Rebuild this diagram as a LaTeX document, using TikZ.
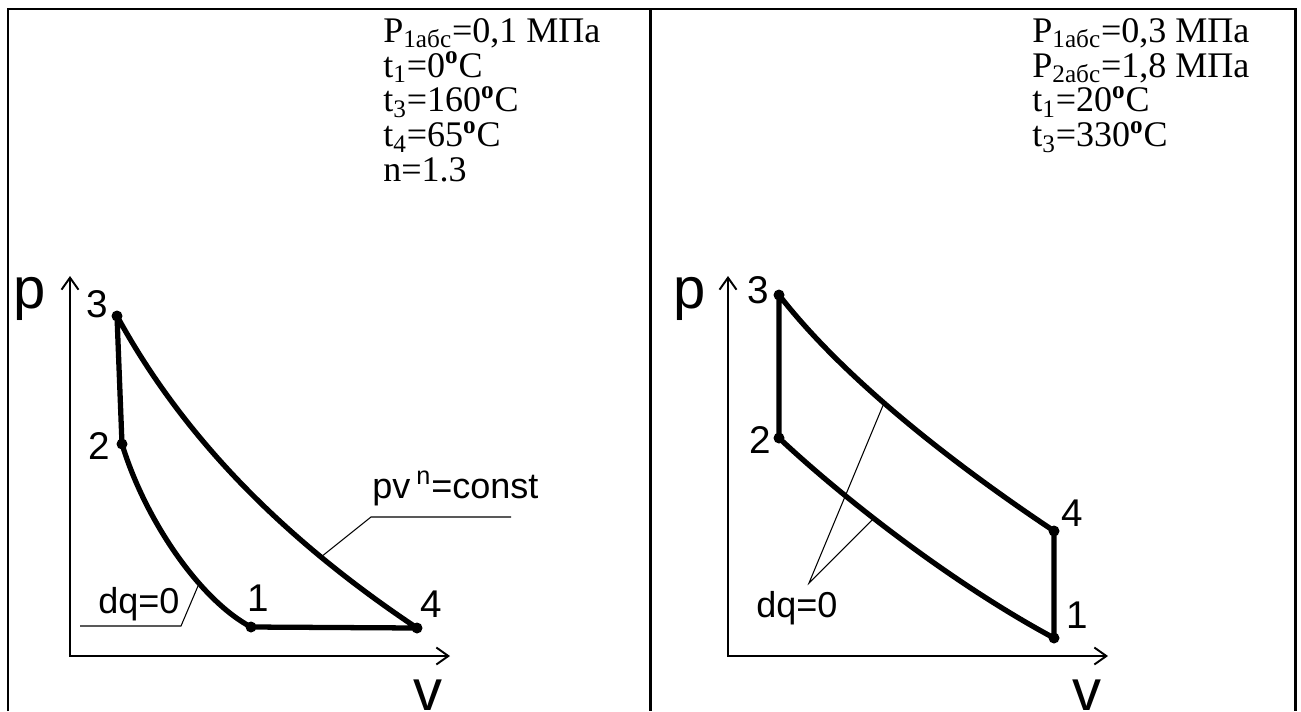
\documentclass[tikz,border=0pt]{standalone}
\usepackage{fontspec}
\setmainfont{Liberation Serif}
\newfontfamily\labelfont{Liberation Sans}
\usetikzlibrary{arrows.meta,positioning}

\begin{document}
\begin{tikzpicture}[
    x=0.02cm, y=-0.02cm,
    frame/.style={line width=1.7pt},
    axis/.style={
      line width=1.1pt,
      {Straight Barb[length=2.4mm,width=3.4mm]}-{Straight Barb[length=2.4mm,width=3.4mm]}
    },
    proc/.style={line width=3pt, line cap=round, line join=round},
    dot/.style={circle, fill, inner sep=0pt, minimum size=0.22cm},
    leader/.style={line width=0.6pt},
    data/.style={
      anchor=north west,
      inner sep=0pt,
      align=left,
      font=\fontsize{20.5}{19.8}\selectfont
    },
    num/.style={inner sep=0pt, font=\labelfont\fontsize{22}{22}\selectfont},
    axlabel/.style={inner sep=0pt, font=\labelfont\fontsize{33}{33}\selectfont},
    note/.style={inner sep=0pt, anchor=base west, font=\labelfont\fontsize{20.5}{20.5}\selectfont}
  ]
  \useasboundingbox (0,0) rectangle (1301,711);

  % Table frame
  \draw[frame] (8,711) -- (8,9) -- (1295,9) -- (1295,711);
  \draw[frame] (650,9) -- (650,711);

  % Given data
  \node[data] (ldata) at (383,18) {P\textsubscript{1абс}=0,1 МПа\\
    t\textsubscript{1}=0\textsuperscript{\textbf{o}}C\\
    t\textsubscript{3}=160\textsuperscript{\textbf{o}}C\\
    t\textsubscript{4}=65\textsuperscript{\textbf{o}}C\\
    n=1.3};
  \node[data] (rdata) at (1032,18) {P\textsubscript{1абс}=0,3 МПа\\
    P\textsubscript{2абс}=1,8 МПа\\
    t\textsubscript{1}=20\textsuperscript{\textbf{o}}C\\
    t\textsubscript{3}=330\textsuperscript{\textbf{o}}C};

  % Left diagram: axes
  \coordinate (lo) at (70,656);
  \coordinate (ly) at (70,276);
  \coordinate (lx) at (450,656);
  \draw[axis] (ly) -- (lo) -- (lx);
  \node[axlabel] (lp) at (30,299) {p};
  \node[axlabel] (lv) at (428,695) {v};

  % Left diagram: states
  \node[dot] (l1) at (251,627) {};
  \node[dot] (l2) at (122,444) {};
  \node[dot] (l3) at (117,316) {};
  \node[dot] (l4) at (417,628) {};
  \node[num] (l1t) at (258,598) {1};
  \node[num] (l2t) at (99,446) {2};
  \node[num] (l3t) at (97,304) {3};
  \node[num] (l4t) at (431,604) {4};

  % Left diagram: cycle
  \draw[proc] (l3.center) -- (l2.center)
    .. controls (145,520) and (200,600) .. (l1.center)
    -- (l4.center)
    .. controls (300,550) and (190,450) .. (l3.center);

  % Left diagram: notes
  \node[note] (ldq) at (98,613) {dq=0};
  \coordinate (ldqa) at (80,626);
  \coordinate (ldqb) at (181,626);
  \coordinate (ldqc) at (198,586);
  \draw[leader] (ldqa) -- (ldqb) -- (ldqc);
  \node[note] (lpv) at (372,498) {pv\,\textsuperscript{n}=const};
  \coordinate (lpva) at (511,517);
  \coordinate (lpvb) at (371,517);
  \coordinate (lpvc) at (321,557);
  \draw[leader] (lpva) -- (lpvb) -- (lpvc);

  % Right diagram: axes
  \coordinate (ro) at (728,656);
  \coordinate (ry) at (728,276);
  \coordinate (rx) at (1108,656);
  \draw[axis] (ry) -- (ro) -- (rx);
  \node[axlabel] (rp) at (690,299) {p};
  \node[axlabel] (rv) at (1087,695) {v};

  % Right diagram: states
  \node[dot] (r1) at (1054,638) {};
  \node[dot] (r2) at (779,438) {};
  \node[dot] (r3) at (779,295) {};
  \node[dot] (r4) at (1054,531) {};
  \node[num] (r1t) at (1077,615) {1};
  \node[num] (r2t) at (760,440) {2};
  \node[num] (r3t) at (758,290) {3};
  \node[num] (r4t) at (1072,513) {4};

  % Right diagram: cycle
  \draw[proc] (r3.center) -- (r2.center)
    .. controls (845,500) and (955,585) .. (r1.center)
    -- (r4.center)
    .. controls (955,465) and (845,380) .. (r3.center);

  % Right diagram: note
  \node[note] (rdq) at (756,617) {dq=0};
  \coordinate (rdqa) at (809,583);
  \coordinate (rdqb) at (884,403);
  \coordinate (rdqc) at (875,517);
  \draw[leader] (rdqb) -- (rdqa) -- (rdqc);

\end{tikzpicture}
\end{document}
